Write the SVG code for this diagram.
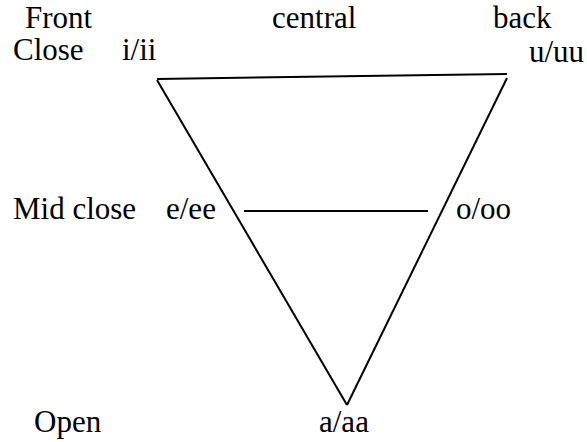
<svg xmlns="http://www.w3.org/2000/svg" width="587" height="442" viewBox="0 0 587 442">
<style>
.ln{stroke:#000;stroke-width:2;fill:none}
</style>
<rect width="587" height="442" fill="#fff"/>
<g id="labels" font-family="'Liberation Serif', 'DejaVu Serif', 'Noto Serif', serif" font-size="31" fill="#000">
<text x="25" y="28">Front</text>
<text x="272" y="28">central</text>
<text x="493" y="28">back</text>
<text x="13" y="60">Close</text>
<text x="122" y="60">i/ii</text>
<text x="529" y="62">u/uu</text>
<text x="13" y="219">Mid close</text>
<text x="166" y="219">e/ee</text>
<text x="456" y="219">o/oo</text>
<text x="34" y="432">Open</text>
<text x="319" y="432">a/aa</text>
</g>
<g id="connectors">
<line class="ln" x1="157" y1="79" x2="507" y2="74"/>
<line class="ln" x1="157" y1="80" x2="347" y2="405"/>
<line class="ln" x1="507" y1="78" x2="347" y2="405"/>
<line class="ln" x1="244" y1="211" x2="428" y2="211"/>
</g>
</svg>
